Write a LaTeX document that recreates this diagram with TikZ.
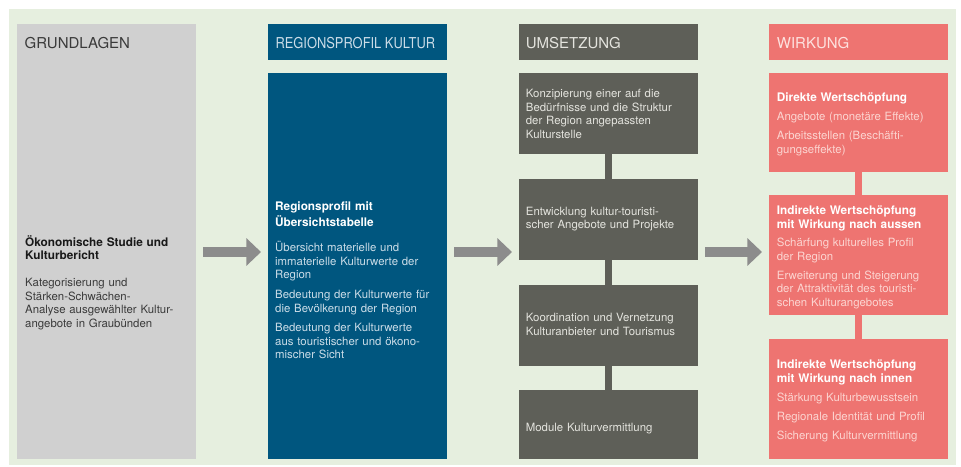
\documentclass[tikz,border=0pt]{standalone}
\usepackage{fontspec}
\usepackage{graphicx}
\setmainfont{TeX Gyre Heros}
\usetikzlibrary{arrows.meta}

\definecolor{bggreen}{HTML}{E6EFDF}
\definecolor{colgray}{HTML}{D0D0D0}
\definecolor{colblue}{HTML}{00567F}
\definecolor{coldark}{HTML}{5E5F58}
\definecolor{colred}{HTML}{EE7471}
\definecolor{arrowgray}{HTML}{8C8C8C}
\definecolor{inkgray}{HTML}{3A3A3A}
\definecolor{inkblue}{HTML}{CCDDE8}
\definecolor{inkdark}{HTML}{E4E4DE}
\definecolor{inkred}{HTML}{FCD5D1}

% bold lead line inside a text block
\newcommand\leadline[1]{{\fontsize{11.8}{13.5}\selectfont\bfseries #1}}

\begin{document}
\begin{tikzpicture}[x=1pt,y=-1pt,
  panel/.style={anchor=north west, inner sep=0pt, outer sep=0pt, minimum width=179pt},
  hdrtext/.style={anchor=base west, inner sep=0pt, font=\fontsize{15}{18}\selectfont},
  body/.style={anchor=north west, inner sep=0pt, text width=172pt, align=left,
               font=\fontsize{11.4}{13.5}\selectfont},
  flow/.style={line width=9.5pt, draw=arrowgray, shorten <=7pt, shorten >=7pt,
               -{Triangle[length=14.7pt,width=27pt]}},
  link/.style={line width=7pt}]

  % canvas
  \fill[white] (0,0) rectangle (961,466);
  \useasboundingbox (0,0) rectangle (961,466);
  \fill[bggreen] (9,9) rectangle (956,465);

  % column 1: Grundlagen
  \node[panel, fill=colgray, minimum height=435pt] (grund) at (17,24) {};

  % column 2: Regionsprofil
  \node[panel, fill=colblue, minimum height=36pt]  (regh) at (268,24) {};
  \node[panel, fill=colblue, minimum height=386pt] (regb) at (268,73) {};

  % column 3: Umsetzung
  \node[panel, fill=coldark, minimum height=36pt] (umh) at (519,24) {};
  \node[panel, fill=coldark, minimum height=81pt] (um1) at (519,73) {};
  \node[panel, fill=coldark, minimum height=81pt] (um2) at (519,179) {};
  \node[panel, fill=coldark, minimum height=81pt] (um3) at (519,285) {};
  \node[panel, fill=coldark, minimum height=69pt] (um4) at (519,390) {};

  % column 4: Wirkung
  \node[panel, fill=colred, minimum height=36pt]  (wirh) at (769,24) {};
  \node[panel, fill=colred, minimum height=99pt]  (wir1) at (769,73) {};
  \node[panel, fill=colred, minimum height=120pt] (wir2) at (769,195) {};
  \node[panel, fill=colred, minimum height=120pt] (wir3) at (769,339) {};

  % links inside the columns
  \draw[link, coldark] (um1.south) -- (um2.north);
  \draw[link, coldark] (um2.south) -- (um3.north);
  \draw[link, coldark] (um3.south) -- (um4.north);
  \draw[link, colred] (wir1.south) -- (wir2.north);
  \draw[link, colred] (wir2.south) -- (wir3.north);

  % flow arrows between the columns
  \coordinate (axis) at (0,252);
  \draw[flow] (grund.east |- axis) -- (regb.west |- axis);
  \draw[flow] (regb.east |- axis) -- (um2.west |- axis);
  \draw[flow] (um2.east |- axis) -- (wir2.west |- axis);

  % headings
  \node[hdrtext, text=inkgray] (t-grund) at (24.5,48.5) {GRUNDLAGEN};
  \node[hdrtext, text=inkblue] (t-reg) at (275.3,48.5) {\scalebox{0.86}[1]{REGIONSPROFIL KULTUR}};
  \node[hdrtext, text=inkdark] (t-um) at (525.7,48.5) {UMSETZUNG};
  \node[hdrtext, text=inkred!70!white] (t-wir) at (776.7,48.5) {WIRKUNG};

  % text blocks
  \node[body, text=inkgray] (x-grund) at (25,235.4) {\strut
    {\color{black!90}\leadline{Ökonomische Studie und\\Kulturbericht}}\\[13.2pt]
    Kategorisierung und\\Stärken-Schwächen-\\Analyse ausgewählter Kultur-\\angebote in Graubünden};

  \node[body, text=inkblue] (x-reg) at (275,200.55) {\strut
    {\color{white}\leadline{Regionsprofil mit\\Übersichtstabelle}}\\[12.3pt]
    Übersicht materielle und\\immaterielle Kulturwerte der\\Region\\[6.3pt]
    Bedeutung der Kulturwerte für\\die Bevölkerung der Region\\[6.3pt]
    Bedeutung der Kulturwerte\\aus touristischer und ökono-\\mischer Sicht};

  \node[body, text=inkdark] (x-um1) at (525.7,88.05) {\strut
    Konzipierung einer auf die\\Bedürfnisse und die Struktur\\der Region angepassten\\Kulturstelle};
  \node[body, text=inkdark] (x-um2) at (525.7,205.55) {\strut
    Entwicklung kultur-touristi-\\scher Angebote und Projekte};
  \node[body, text=inkdark] (x-um3) at (525.7,312.25) {\strut
    Koordination und Vernetzung\\Kulturanbieter und Tourismus};
  \node[body, text=inkdark] (x-um4) at (525.7,422.25) {\strut
    Module Kulturvermittlung};

  \node[body, text=inkred] (x-wir1) at (776.7,92.05) {\strut
    {\color{white}\leadline{Direkte Wertschöpfung}}\\[5.5pt]
    Angebote (monetäre Effekte)\\[5.5pt]
    Arbeitsstellen (Beschäfti-\\gungseffekte)};
  \node[body, text=inkred] (x-wir2) at (776.7,204.85) {\strut
    {\color{white}\leadline{Indirekte Wertschöpfung\\mit Wirkung nach aussen}}\\[5.3pt]
    Schärfung kulturelles Profil\\der Region\\[5.3pt]
    Erweiterung und Steigerung\\der Attraktivität des touristi-\\schen Kulturangebotes};
  \node[body, text=inkred] (x-wir3) at (776.7,358.85) {\strut
    {\color{white}\leadline{Indirekte Wertschöpfung\\mit Wirkung nach innen}}\\[5.8pt]
    Stärkung Kulturbewusstsein\\[5.5pt]
    Regionale Identität und Profil\\[5.5pt]
    Sicherung Kulturvermittlung};
\end{tikzpicture}
\end{document}
